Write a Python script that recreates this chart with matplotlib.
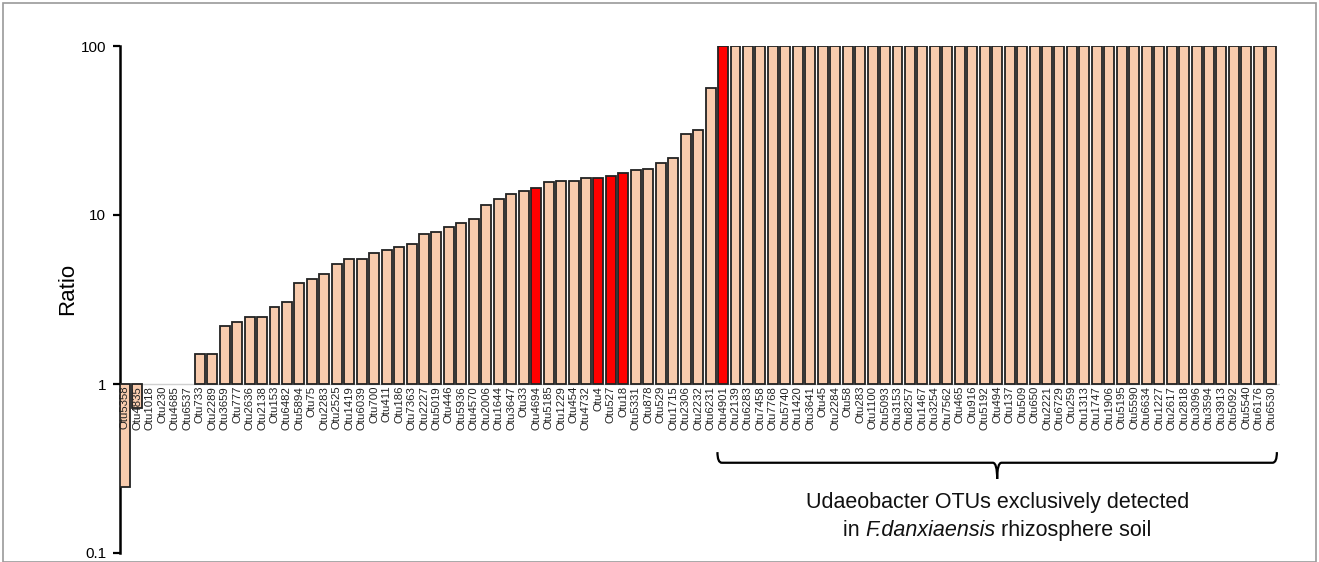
import numpy as np
import matplotlib
matplotlib.use('Agg')
import matplotlib.pyplot as plt
import matplotlib.transforms as mtransforms
from matplotlib.path import Path
from matplotlib.patches import PathPatch, Rectangle

plt.rcParams['font.family'] = ['Liberation Sans', 'DejaVu Sans']

otus = ['Otu5358', 'Otu4835', 'Otu1018', 'Otu230', 'Otu4685', 'Otu6537', 'Otu733', 'Otu2289',
        'Otu3659', 'Otu777', 'Otu2636', 'Otu2138', 'Otu153', 'Otu6482', 'Otu5894', 'Otu75',
        'Otu2283', 'Otu2525', 'Otu1419', 'Otu6039', 'Otu700', 'Otu411', 'Otu186', 'Otu7363',
        'Otu2227', 'Otu5019', 'Otu446', 'Otu5936', 'Otu4570', 'Otu2006', 'Otu1644', 'Otu3647',
        'Otu33', 'Otu4694', 'Otu5185', 'Otu1229', 'Otu454', 'Otu4732', 'Otu4', 'Otu527',
        'Otu18', 'Otu5331', 'Otu878', 'Otu529', 'Otu1715', 'Otu2306', 'Otu2232', 'Otu6231',
        'Otu4901', 'Otu2139', 'Otu6283', 'Otu7458', 'Otu7768', 'Otu5740', 'Otu1420', 'Otu3641',
        'Otu45', 'Otu2284', 'Otu58', 'Otu283', 'Otu1100', 'Otu5093', 'Otu3153', 'Otu8257',
        'Otu1467', 'Otu3254', 'Otu7562', 'Otu465', 'Otu916', 'Otu5192', 'Otu494', 'Otu137',
        'Otu509', 'Otu650', 'Otu2221', 'Otu6729', 'Otu259', 'Otu1313', 'Otu1747', 'Otu1906',
        'Otu5195', 'Otu5590', 'Otu6634', 'Otu1227', 'Otu2617', 'Otu2818', 'Otu3096', 'Otu3594',
        'Otu3913', 'Otu5092', 'Otu5540', 'Otu6176', 'Otu6530']

ratio = [0.247, 0.72, 1, 1, 1, 1, 1.5, 1.5,
         2.2, 2.34, 2.5, 2.5, 2.87, 3.07, 3.98, 4.2,
         4.46, 5.15, 5.47, 5.51, 5.96, 6.18, 6.47, 6.73,
         7.72, 7.9, 8.49, 8.97, 9.43, 11.5, 12.4, 13.4,
         13.8, 14.5, 15.6, 16.0, 16.0, 16.5, 16.6, 17.0,
         17.7, 18.5, 18.7, 20.4, 21.8, 30.1, 31.8, 56.2] + [100] * 45

# OTUs highlighted in red
highlight = ['Otu4694', 'Otu4', 'Otu527', 'Otu18', 'Otu4901']

peach = '#F8CBAD'
x = np.arange(len(otus))
ratio = np.array(ratio)
colors = np.array(['#FF0000' if o in highlight else peach for o in otus])

fig = plt.figure(figsize=(13.19, 5.62), dpi=100)
ax = fig.add_axes([120 / 1319, 9 / 562, 1160 / 1319, 507 / 562])

# bars grow from 1 (ratios below 1 hang downwards); ratio == 1 leaves no bar
keep = ratio != 1
ax.bar(x[keep], ratio[keep] - 1, bottom=1, width=0.8, color=colors[keep],
       edgecolor='#222222', linewidth=1.3, zorder=3)
ax.axhline(1, color='#d0d0d0', lw=1, zorder=2)

ax.set_yscale('log')
ax.set_ylim(0.1, 100)
ax.set_xlim(-0.4, 92.7)
ax.set_yticks([0.1, 1, 10, 100])
ax.set_yticklabels(['0.1', '1', '10', '100'])
ax.yaxis.set_minor_locator(matplotlib.ticker.NullLocator())
ax.tick_params(axis='y', direction='out', length=5, width=1.6, labelsize=11, pad=5)
ax.set_xticks([])
for s in ['top', 'right', 'bottom']:
    ax.spines[s].set_visible(False)
ax.spines['left'].set_linewidth(1.8)
ax.set_ylabel('Ratio', fontsize=16)
ax.yaxis.set_label_coords(-0.036, 0.52)

# OTU names below the baseline
for xi, name in zip(x, otus):
    ax.text(xi, 0.975, name, rotation=90, ha='center', va='top', fontsize=8.2,
            color='#222222', zorder=4)

# curly bracket under the exclusive OTUs
trans = mtransforms.blended_transform_factory(ax.transData, ax.transAxes)
x0, x1 = 48 - 0.45, 92 + 0.45
xm = (x0 + x1) / 2
yt, yl, yp = 0.199, 0.178, 0.146
r = 0.35
verts = [(x0, yt), (x0, yl), (x0 + r, yl),
         (xm - r, yl), (xm, yl), (xm, yp),
         (xm, yl), (xm + r, yl),
         (x1 - r, yl), (x1, yl), (x1, yt)]
codes = [Path.MOVETO, Path.CURVE3, Path.CURVE3,
         Path.LINETO, Path.CURVE3, Path.CURVE3,
         Path.CURVE3, Path.CURVE3,
         Path.LINETO, Path.CURVE3, Path.CURVE3]
ax.add_patch(PathPatch(Path(verts, codes), transform=trans, facecolor='none',
                       edgecolor='black', lw=1.6, clip_on=False))

fs = 15.5
ax.text(xm, 0.100, 'Udaeobacter OTUs exclusively detected', transform=trans,
        ha='center', va='center', fontsize=fs, color='#111111')

# second line: plain / italic / plain pieces laid out side by side
pieces = [('in ', 'normal'), ('F.danxiaensis', 'italic'), (' rhizosphere soil', 'normal')]
renderer = fig.canvas.get_renderer()
texts = [ax.text(0, 0.045, s, transform=trans, fontsize=fs, style=st, color='#111111',
                 ha='left', va='center') for s, st in pieces]
widths = [t.get_window_extent(renderer).width for t in texts]
xm_px = ax.transData.transform((xm, 1))[0]
start = xm_px - sum(widths) / 2
inv = ax.transData.inverted()
for t, w in zip(texts, widths):
    t.set_x(inv.transform((start, 0))[0])
    start += w

# thin frame round the figure
fig.patches.append(Rectangle((3 / 1319, 0), 1313 / 1319, 1 - 3 / 562, transform=fig.transFigure,
                             fill=False, edgecolor='#9a9a9a', lw=1.2))

fig.savefig('out.png', dpi=100)
